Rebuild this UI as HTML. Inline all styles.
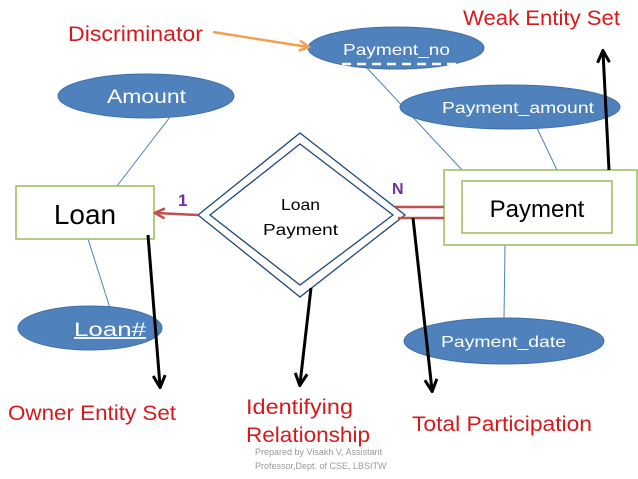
<!DOCTYPE html>
<html><head><meta charset="utf-8"><style>
html,body{margin:0;padding:0;background:#fff;}
svg{display:block;font-family:"Liberation Sans",sans-serif;}
</style></head><body>
<svg width="638" height="479" viewBox="0 0 638 479" xmlns="http://www.w3.org/2000/svg">
<defs>
<marker id="ab" viewBox="0 0 10 10" refX="8" refY="5" markerWidth="5" markerHeight="5" orient="auto"><path d="M1,1 L9,5 L1,9" fill="none" stroke="#000" stroke-width="2"/></marker>
<marker id="ar" viewBox="0 0 10 10" refX="8" refY="5" markerWidth="5" markerHeight="5" orient="auto"><path d="M1,1 L9,5 L1,9" fill="none" stroke="#c0504d" stroke-width="2"/></marker>
<marker id="ao" viewBox="0 0 10 10" refX="8" refY="5" markerWidth="5" markerHeight="5" orient="auto"><path d="M1,1 L9,5 L1,9" fill="none" stroke="#f0a050" stroke-width="2"/></marker>
</defs>
<g stroke="#4f81bd" stroke-width="1">
<line x1="170" y1="117" x2="117" y2="186"/>
<line x1="88" y1="239" x2="110" y2="308"/>
<line x1="367" y1="68" x2="462" y2="170"/>
<line x1="537" y1="128" x2="557" y2="170"/>
<line x1="505" y1="245" x2="504" y2="319"/>
</g>
<g fill="#4f81bd" stroke="#3f6fa8" stroke-width="1">
<ellipse cx="146" cy="96" rx="88" ry="22"/>
<ellipse cx="90" cy="328" rx="72" ry="22"/>
<ellipse cx="396" cy="48" rx="88" ry="21"/>
<ellipse cx="510" cy="107" rx="110" ry="22"/>
<ellipse cx="504" cy="341" rx="100" ry="23"/>
</g>
<g fill="#fff" font-size="19">
<text x="107" y="103" textLength="79" lengthAdjust="spacingAndGlyphs">Amount</text>
<text x="74" y="336" textLength="72" lengthAdjust="spacingAndGlyphs" text-decoration="underline">Loan#</text>
<text x="343" y="55" font-size="16" textLength="107" lengthAdjust="spacingAndGlyphs">Payment_no</text>
<text x="442" y="113" font-size="16" textLength="152" lengthAdjust="spacingAndGlyphs">Payment_amount</text>
<text x="441" y="347" font-size="16" textLength="125" lengthAdjust="spacingAndGlyphs">Payment_date</text>
</g>
<line x1="342" y1="64" x2="458" y2="64" stroke="#fff" stroke-width="2.5" stroke-dasharray="9,6"/>
<rect x="16" y="186" width="138" height="53" fill="#fff" stroke="#9bbb59" stroke-width="1.5"/>
<text x="85" y="224" font-size="28" text-anchor="middle">Loan</text>
<rect x="444" y="170" width="193" height="75" fill="#fff" stroke="#9bbb59" stroke-width="1.5"/>
<rect x="462" y="181" width="150" height="52" fill="#fff" stroke="#9bbb59" stroke-width="1.5"/>
<text x="537" y="217" font-size="24" text-anchor="middle">Payment</text>
<polygon points="300,133 405,215 300,297 198,215" fill="#fff" stroke="#1f497d" stroke-width="1.3"/>
<polygon points="300,144 393,215 300,285 210,215" fill="#fff" stroke="#1f497d" stroke-width="1.3"/>
<text x="281" y="210" font-size="16" textLength="39" lengthAdjust="spacingAndGlyphs">Loan</text>
<text x="263" y="235" font-size="16" textLength="75" lengthAdjust="spacingAndGlyphs">Payment</text>
<line x1="198" y1="215" x2="156" y2="213" stroke="#c0504d" stroke-width="2.5" marker-end="url(#ar)"/>
<line x1="395" y1="207" x2="444" y2="207" stroke="#c0504d" stroke-width="2.5"/>
<line x1="398" y1="218" x2="444" y2="218" stroke="#c0504d" stroke-width="2.5"/>
<text x="178" y="206" font-size="17" font-weight="bold" fill="#7030a0">1</text>
<text x="392" y="194" font-size="16" font-weight="bold" fill="#7030a0">N</text>
<line x1="213" y1="32" x2="308" y2="47" stroke="#f0a050" stroke-width="2.5" marker-end="url(#ao)"/>
<g stroke="#000" stroke-width="3" marker-end="url(#ab)">
<line x1="148" y1="235" x2="160" y2="386"/>
<line x1="609" y1="170" x2="603" y2="52"/>
<line x1="311" y1="288" x2="300" y2="384"/>
<line x1="413" y1="218" x2="432" y2="390"/>
</g>
<g fill="#d7191c" font-size="21" lengthAdjust="spacingAndGlyphs">
<text x="68" y="41" textLength="135" lengthAdjust="spacingAndGlyphs">Discriminator</text>
<text x="463" y="25" textLength="157" lengthAdjust="spacingAndGlyphs">Weak Entity Set</text>
<text x="8" y="420" textLength="168" lengthAdjust="spacingAndGlyphs">Owner Entity Set</text>
<text x="246" y="414" textLength="107" lengthAdjust="spacingAndGlyphs">Identifying</text>
<text x="246" y="442" textLength="124" lengthAdjust="spacingAndGlyphs">Relationship</text>
<text x="412" y="431" textLength="180" lengthAdjust="spacingAndGlyphs">Total Participation</text>
</g>
<g fill="#999" font-size="9">
<text x="255" y="455">Prepared by Visakh V, Assistant</text>
<text x="255" y="469">Professor,Dept. of CSE, LBSITW</text>
</g>
</svg>
</body></html>
